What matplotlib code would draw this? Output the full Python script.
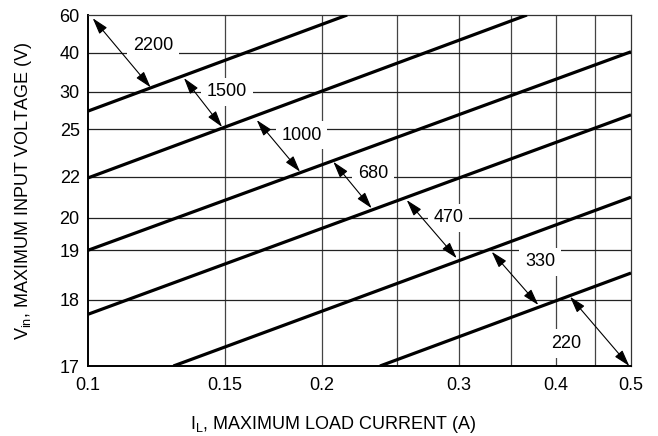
import numpy as np
import matplotlib
matplotlib.use('Agg')
import matplotlib.pyplot as plt
from matplotlib import font_manager

# pick a narrow sans if present
names = {f.name for f in font_manager.fontManager.ttflist}
fam = 'Liberation Sans Narrow' if 'Liberation Sans Narrow' in names else 'Liberation Sans'
plt.rcParams['font.family'] = [fam, 'DejaVu Sans']
plt.rcParams['mathtext.fontset'] = 'custom'
plt.rcParams['mathtext.rm'] = fam
plt.rcParams['mathtext.it'] = fam

# axis ticks
x_ticks = [0.1, 0.15, 0.2, 0.3, 0.4, 0.5]
x_grid = [0.15, 0.2, 0.25, 0.3, 0.35, 0.4, 0.45]
y_ticks = [17, 18, 19, 20, 22, 25, 30, 40, 60]
# nonlinear y scale of the datasheet (relative tick spacing)
y_scale_pos = np.array([0, 66.3, 115.7, 148.3, 189.3, 237, 274.3, 313.3, 351]) / 351.0

# boundary lines between capacitor regions (endpoints)
line_il = [[0.1, 0.2156], [0.1, 0.3673], [0.1, 0.5], [0.1, 0.5], [0.1288, 0.5], [0.2376, 0.5]]
line_vin = [[27.4, 60], [21.94, 60], [19.0, 40.5], [17.78, 26.9], [17.0, 21.0], [17.0, 18.54]]

# region labels (capacitance) and their double arrows
cap_labels = ['2200', '1500', '1000', '680', '470', '330', '220']
label_il = [0.1212, 0.1509, 0.1884, 0.2327, 0.2909, 0.3818, 0.4121]
label_vin = [43.6, 30.0, 24.6, 22.2, 20.0, 18.77, 17.34]
arrow_start = [(0.1014, 58.3), (0.1329, 33.5), (0.1649, 26.2), (0.2069, 22.94),
               (0.2572, 20.86), (0.3309, 18.97), (0.4174, 18.06)]
arrow_end = [(0.1204, 31.1), (0.1488, 25.27), (0.1875, 22.31), (0.2318, 20.46),
             (0.2983, 18.84), (0.3799, 17.92), (0.4975, 17.0)]


def fwd(v):
    return np.interp(v, y_ticks, y_scale_pos)


def inv(p):
    return np.interp(p, y_scale_pos, y_ticks)


fig = plt.figure(figsize=(6.58, 4.36), dpi=100)
ax = fig.add_axes([88 / 658, 70 / 436, 543 / 658, 351 / 436])
ax.set_xscale('log')
ax.set_yscale('function', functions=(fwd, inv))
ax.set_xlim(0.1, 0.5)
ax.set_ylim(17, 60)

# grid
for g in x_grid:
    ax.axvline(g, color='#444444', lw=0.9, zorder=1)
for g in y_ticks[1:-1]:
    ax.axhline(g, color='#222222', lw=0.9, zorder=1)

ax.set_xticks(x_ticks)
ax.set_xticklabels([str(t) for t in x_ticks])
ax.set_xticks([], minor=True)
ax.set_yticks(y_ticks)
ax.set_yticklabels([str(t) for t in y_ticks])
ax.set_yticks([], minor=True)
ax.tick_params(length=0, labelsize=13)
ax.tick_params(axis='x', pad=8)
ax.tick_params(axis='y', pad=6)

for s in ['top', 'right']:
    ax.spines[s].set_color('#333333')
    ax.spines[s].set_linewidth(0.9)
for s in ['left', 'bottom']:
    ax.spines[s].set_color('black')
    ax.spines[s].set_linewidth(1.4)

for xs, ys in zip(line_il, line_vin):
    ax.plot(xs, ys, color='black', lw=2.3, solid_capstyle='butt', zorder=3)

for txt, lx, ly, a0, a1 in zip(cap_labels, label_il, label_vin, arrow_start, arrow_end):
    ax.annotate('', xy=a1, xytext=a0,
                arrowprops=dict(arrowstyle='<|-|>,head_length=1.0,head_width=0.3',
                                color='black', lw=0.8, shrinkA=0, shrinkB=0),
                zorder=4)
    ax.text(lx, ly, txt, ha='center', va='center', fontsize=13, zorder=2,
            bbox=dict(facecolor='white', edgecolor='none', pad=4))

ax.set_xlabel(r'$\mathregular{I_L}$, MAXIMUM LOAD CURRENT (A)', fontsize=13)
ax.xaxis.set_label_coords(0.451, -0.137)
ax.set_ylabel(r'$\mathregular{V_{in}}$, MAXIMUM INPUT VOLTAGE (V)', fontsize=13)
ax.yaxis.set_label_coords(-0.10, 0.5)

fig.savefig('out.png', dpi=100)
